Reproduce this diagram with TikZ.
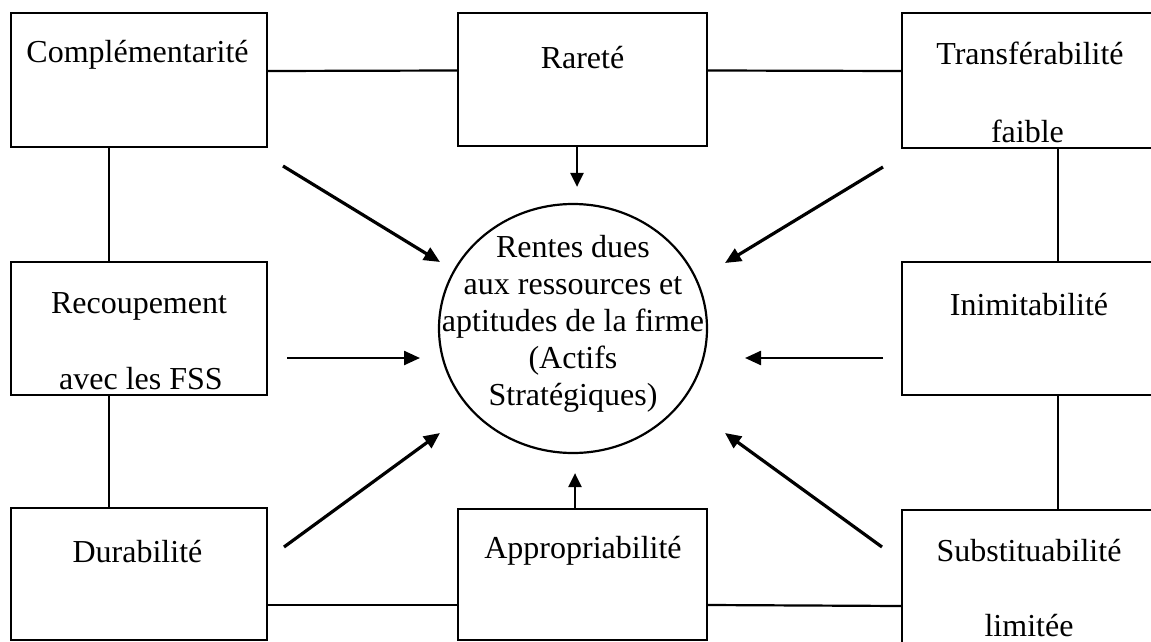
\documentclass[tikz,border=0pt]{standalone}
\usepackage{fontspec}
\setmainfont{Liberation Serif}
\usetikzlibrary{arrows.meta,shapes.geometric}
\begin{document}
\begin{tikzpicture}[x=1pt,y=-1pt,
  box/.style={draw, line width=2.4pt, rectangle, inner sep=0pt},
  lbl/.style={font=\fontsize{32}{37}\selectfont, anchor=base, inner sep=0pt},
  link/.style={line width=2.2pt},
  arr/.style={line width=3.2pt, -{Triangle[length=16pt,width=14pt]}},
  varr/.style={line width=2.4pt, -{Triangle[length=14pt,width=13pt]}}]
\useasboundingbox (0,0) rectangle (1151,642);

% boxes
\node[box, minimum width=256pt, minimum height=134pt] (comp)   at (139,80) {};
\node[box, minimum width=249pt, minimum height=133pt] (rare)   at (582.5,79.5) {};
\node[box, minimum width=256pt, minimum height=135pt] (trans)  at (1030,80.5) {};
\node[box, minimum width=256pt, minimum height=133pt] (recoup) at (139,328.5) {};
\node[box, minimum width=256pt, minimum height=133pt] (inim)   at (1030,328.5) {};
\node[box, minimum width=256pt, minimum height=132pt] (dura)   at (139,574) {};
\node[box, minimum width=249pt, minimum height=131pt] (appro)  at (582.5,574.5) {};
\node[box, minimum width=256pt, minimum height=140pt] (subst)  at (1030,580) {};

% central ellipse
\node[draw, ellipse, line width=2.2pt, minimum width=268pt, minimum height=249pt, inner sep=0pt] (c) at (573,328.5) {};

% labels
\node[lbl] (tcomp)   at (137.5,63) {Complémentarité};
\node[lbl] (trare)   at (582.5,68) {Rareté};
\node[lbl] (ttrans)  at (1030,64) {Transférabilité};
\node[lbl] (tfaible) at (1027.5,142) {faible};
\node[lbl] (trecoup) at (139,313) {Recoupement};
\node[lbl] (tavec)   at (141,389) {avec les FSS};
\node[lbl] (tinim)   at (1029,315) {Inimitabilité};
\node[lbl] (tdura)   at (137.5,562) {Durabilité};
\node[lbl] (tappro)  at (583,558) {Appropriabilité};
\node[lbl] (tsubst)  at (1029,561) {Substituabilité};
\node[lbl] (tlim)    at (1029,636) {limitée};

\node[lbl] (ct1) at (573,257) {Rentes dues};
\node[lbl] (ct2) at (573,294) {aux ressources et};
\node[lbl] (ct3) at (573,331) {aptitudes de la firme};
\node[lbl] (ct4) at (573,368) {(Actifs};
\node[lbl] (ct5) at (573,405) {Stratégiques)};

% connecting lines
\draw[link] ([yshift=9pt]comp.east) -- ([yshift=9pt]rare.west);
\draw[link] ([yshift=9pt]rare.east) -- ([yshift=9.5pt]trans.west);
\draw[link] ([xshift=-30pt]comp.south) -- ([xshift=-30pt]recoup.north);
\draw[link] ([xshift=-30pt]recoup.south) -- ([xshift=-30pt]dura.north);
\draw[link] ([xshift=28pt]trans.south) -- ([xshift=28pt]inim.north);
\draw[link] ([xshift=28pt]inim.south) -- ([xshift=28pt]subst.north);
\draw[link] ([yshift=-31pt]dura.east) -- ([yshift=-30.5pt]appro.west);
\draw[link] ([yshift=-30.5pt]appro.east) -- ([yshift=-26pt]subst.west);

% vertical arrows
\draw[varr, shorten >=16pt] ([xshift=-5.5pt]rare.south) -- ([xshift=4pt]c.north);
\draw[varr, shorten >=19pt] ([xshift=-7.5pt]appro.north) -- ([xshift=2pt]c.south);

% diagonal / horizontal arrows
\coordinate (tl1) at (283,166); \coordinate (tl2) at (440,262);
\coordinate (tr1) at (883,167); \coordinate (tr2) at (725,263);
\coordinate (ml1) at (287,358); \coordinate (ml2) at (420,358);
\coordinate (mr1) at (883,358); \coordinate (mr2) at (745,358);
\coordinate (bl1) at (284,547); \coordinate (bl2) at (440,433);
\coordinate (br1) at (882,547); \coordinate (br2) at (725,433);
\draw[arr] (tl1) -- (tl2);
\draw[arr] (tr1) -- (tr2);
\draw[arr, line width=2.4pt] (ml1) -- (ml2);
\draw[arr, line width=2.4pt] (mr1) -- (mr2);
\draw[arr] (bl1) -- (bl2);
\draw[arr] (br1) -- (br2);
\end{tikzpicture}
\end{document}
